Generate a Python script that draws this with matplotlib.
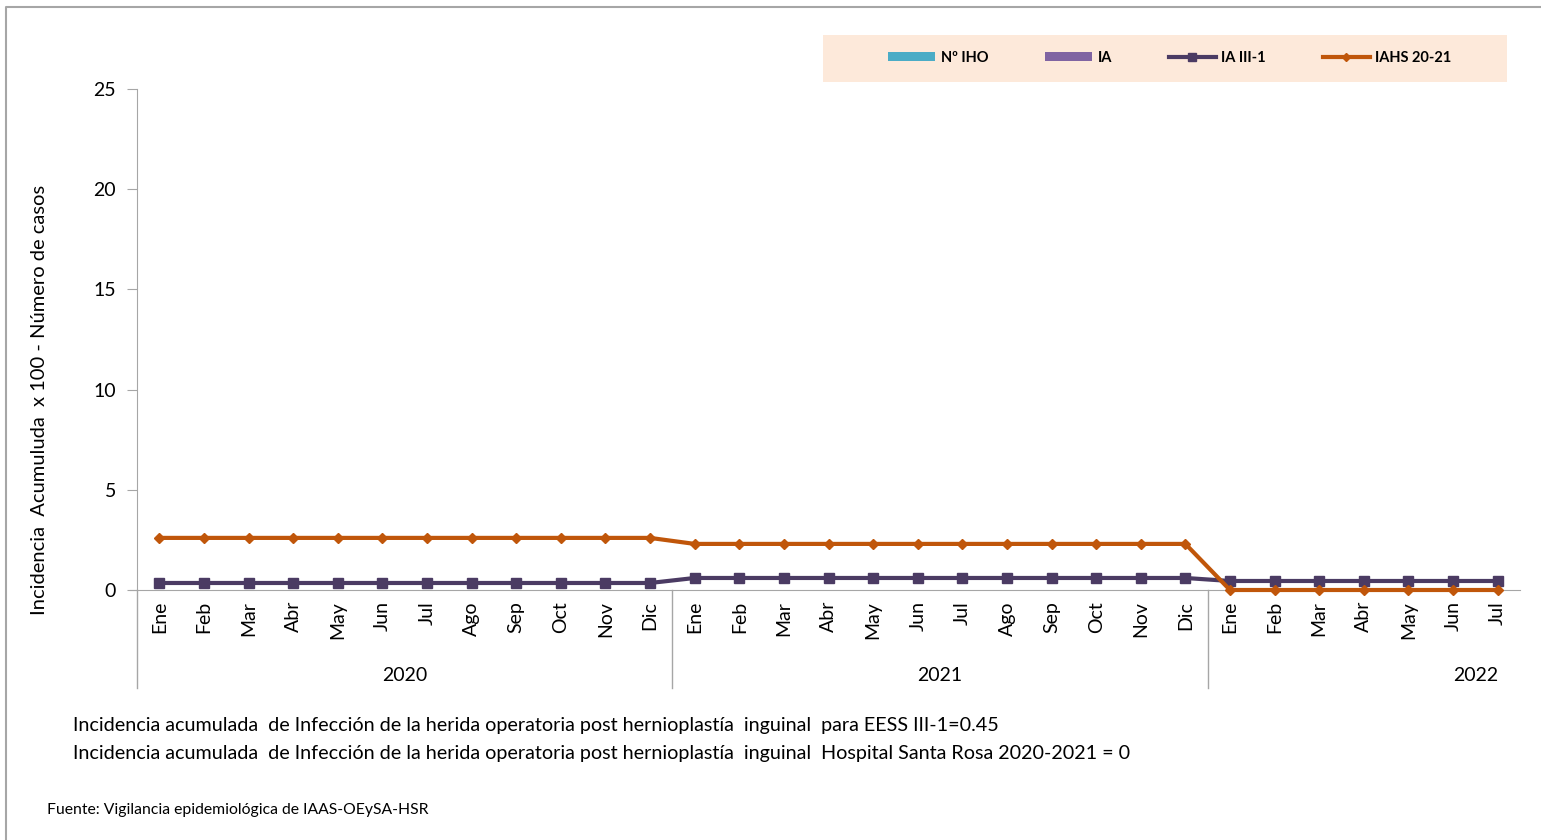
import numpy as np
import matplotlib.pyplot as plt
from matplotlib.lines import Line2D
from matplotlib.patches import Patch, Rectangle

plt.rcParams['font.family'] = ['Lato', 'DejaVu Sans']

## data
meses = ["Ene", "Feb", "Mar", "Abr", "May", "Jun", "Jul", "Ago", "Sep", "Oct", "Nov", "Dic",
         "Ene", "Feb", "Mar", "Abr", "May", "Jun", "Jul", "Ago", "Sep", "Oct", "Nov", "Dic",
         "Ene", "Feb", "Mar", "Abr", "May", "Jun", "Jul"]
anios = ["2020", "2021", "2022"]
meses_por_anio = [12, 12, 7]

n_iho = [0] * 31
ia = [0] * 31
ia_iii1 = [0.35] * 12 + [0.6] * 12 + [0.45] * 7
iahs = [2.6] * 12 + [2.3] * 12 + [0] * 7

c_iho = "#4BACC6"
c_ia = "#8064A2"
c_iii = "#4B3B63"
c_iahs = "#C0560A"
gris = "#A6A6A6"

fig = plt.figure(figsize=(15.41, 8.4), dpi=100)
ax = fig.add_axes([137 / 1541, 1 - 590 / 840, (1520 - 137) / 1541, (590 - 89) / 840])

x = np.arange(len(meses))
ax.bar(x - 0.2, n_iho, width=0.35, color=c_iho)
ax.bar(x + 0.2, ia, width=0.35, color=c_ia)
ax.plot(x, ia_iii1, color=c_iii, lw=3, marker="s", ms=7, zorder=3)
ax.plot(x, iahs, color=c_iahs, lw=3, marker="D", ms=5.5, zorder=4, clip_on=False)

ax.set_xlim(-0.5, len(meses) - 0.5)
ax.set_ylim(0, 25)
ax.set_yticks([0, 5, 10, 15, 20, 25])
ax.set_xticks(x)
ax.set_xticklabels(meses, rotation=90, fontsize=14)
ax.tick_params(axis="y", labelsize=14, length=7, color=gris, pad=8)
ax.tick_params(axis="x", length=0, pad=8)
for s in ["top", "right"]:
    ax.spines[s].set_visible(False)
ax.spines["left"].set_color(gris)
ax.spines["bottom"].set_color(gris)
ax.spines["bottom"].set_bounds(-0.65, len(meses) - 0.5)

ax.set_ylabel("Incidencia  Acumuluda  x 100 - Número de casos", fontsize=14.5)
ax.yaxis.set_label_coords(-0.064, 0.38)

# separadores de anio y etiquetas
trans = ax.get_xaxis_transform()
inicio = -0.5
for anio, n in zip(anios, meses_por_anio):
    ax.plot([inicio, inicio], [0, -0.196], color=gris, lw=1, transform=trans, clip_on=False)
    centro = inicio + n / 2 if n == 12 else inicio + n - 1
    ax.text(centro, -0.17, anio, transform=trans, ha="center", va="center", fontsize=14)
    inicio += n

# leyenda
fig.patches.append(Rectangle((823 / 1541, 1 - 82 / 840), (1507 - 823) / 1541, 47 / 840,
                             transform=fig.transFigure, facecolor="#FDE9DA", edgecolor="none"))
handles = [Patch(facecolor=c_iho), Patch(facecolor=c_ia),
           Line2D([], [], color=c_iii, lw=3, marker="s", ms=6),
           Line2D([], [], color=c_iahs, lw=3, marker="D", ms=4)]
fig.legend(handles, ["Nº IHO", "IA", "IA III-1", "IAHS 20-21"], ncol=4, frameon=False,
           loc="center", bbox_to_anchor=(1170 / 1541, 1 - 58 / 840),
           prop={"weight": "bold", "size": 10.5}, columnspacing=3.9, handlelength=3.2,
           handleheight=0.6, handletextpad=0.4)

# notas
fig.text(73 / 1541, 1 - 725 / 840, "Incidencia acumulada  de Infección de la herida operatoria post hernioplastía  inguinal  para EESS III-1=0.45",
         fontsize=14.2, va="center")
fig.text(73 / 1541, 1 - 753 / 840, "Incidencia acumulada  de Infección de la herida operatoria post hernioplastía  inguinal  Hospital Santa Rosa 2020-2021 = 0",
         fontsize=14.2, va="center")
fig.text(47 / 1541, 1 - 810 / 840, "Fuente: Vigilancia epidemiológica de IAAS-OEySA-HSR", fontsize=11.3, va="center")

# marco
fig.add_artist(Line2D([6 / 1541, 6 / 1541, 1], [0, 1 - 7 / 840, 1 - 7 / 840],
                      transform=fig.transFigure, color=gris, lw=1.5))

fig.savefig("out.png", dpi=100)
